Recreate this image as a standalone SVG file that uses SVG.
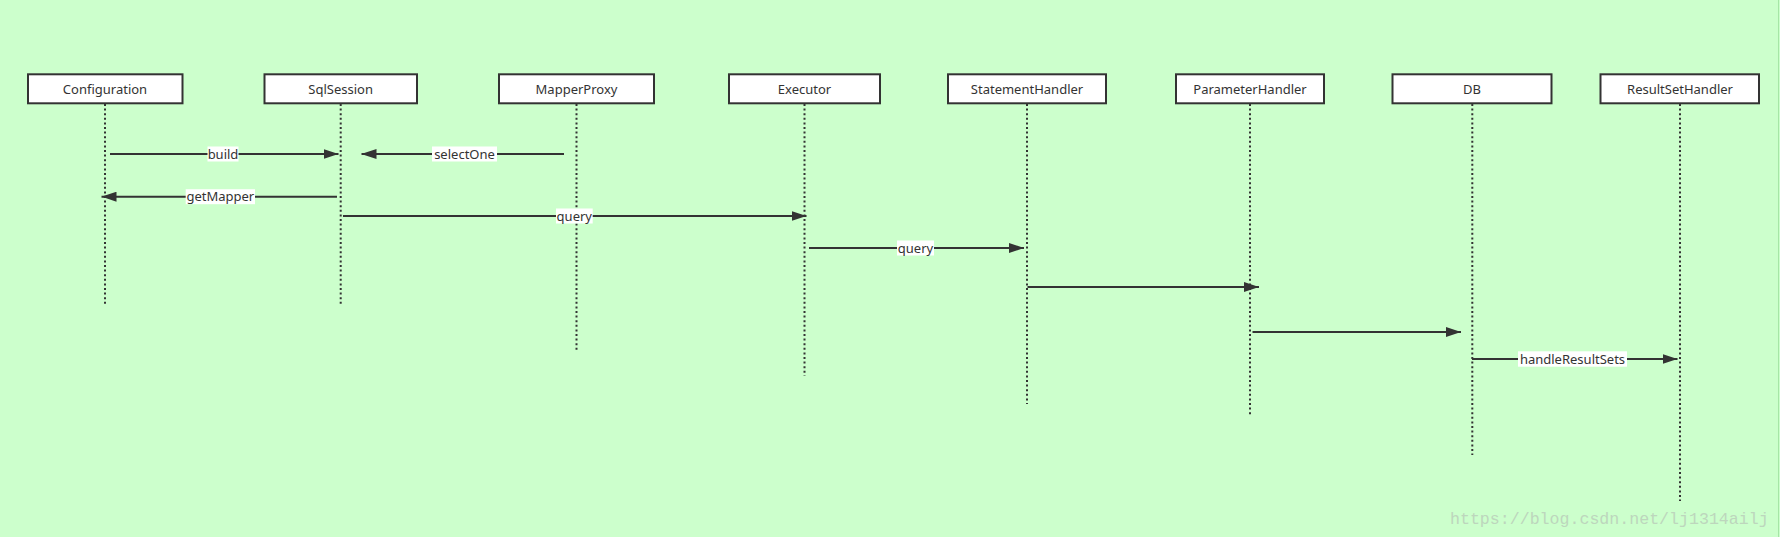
<svg xmlns="http://www.w3.org/2000/svg" width="1780" height="537" viewBox="0 0 1780 537">
<defs>
<style>
.box{fill:#ffffff;stroke:#333333;stroke-width:2}
.name{font-family:"Noto Sans","Open Sans",sans-serif;font-size:13px;fill:#333333;text-anchor:middle}
.life{stroke:#333333;stroke-width:2;stroke-dasharray:2 2.6;fill:none}
.msg{stroke:#333333;stroke-width:2;fill:none;marker-end:url(#arr)}
.lblbg{fill:#ffffff}
.lbl{font-family:"Noto Sans","Open Sans",sans-serif;font-size:13px;fill:#333333;text-anchor:middle}
</style>
<marker id="arr" markerUnits="userSpaceOnUse" markerWidth="15" markerHeight="10" refX="15" refY="5" orient="auto">
<path d="M0,0 L15,5 L0,10 Z" fill="#333333"/>
</marker>
</defs>
<rect x="0" y="0" width="1780" height="537" fill="#ccffcc"/>
<line x1="1778.5" y1="0" x2="1778.5" y2="537" stroke="#a6e6a6" stroke-width="1"/>

<g id="node-configuration">
<rect class="box" x="28" y="74.3" width="154.5" height="29"/>
<text class="name" x="105" y="94">Configuration</text>
<line class="life" x1="105" y1="104" x2="105" y2="305"/>
</g>
<g id="node-sqlsession">
<rect class="box" x="264.5" y="74.3" width="152.5" height="29"/>
<text class="name" x="340.7" y="94">SqlSession</text>
<line class="life" x1="340.7" y1="104" x2="340.7" y2="305"/>
</g>
<g id="node-mapperproxy">
<rect class="box" x="499" y="74.3" width="155" height="29"/>
<text class="name" x="576.5" y="94">MapperProxy</text>
<line class="life" x1="576.5" y1="104" x2="576.5" y2="350"/>
</g>
<g id="node-executor">
<rect class="box" x="729" y="74.3" width="151" height="29"/>
<text class="name" x="804.5" y="94">Executor</text>
<line class="life" x1="804.5" y1="104" x2="804.5" y2="376"/>
</g>
<g id="node-statementhandler">
<rect class="box" x="948" y="74.3" width="158" height="29"/>
<text class="name" x="1027" y="94">StatementHandler</text>
<line class="life" x1="1027" y1="104" x2="1027" y2="404"/>
</g>
<g id="node-parameterhandler">
<rect class="box" x="1176" y="74.3" width="148" height="29"/>
<text class="name" x="1250" y="94">ParameterHandler</text>
<line class="life" x1="1250" y1="104" x2="1250" y2="415"/>
</g>
<g id="node-db">
<rect class="box" x="1392.5" y="74.3" width="159" height="29"/>
<text class="name" x="1472" y="94">DB</text>
<line class="life" x1="1472.3" y1="104" x2="1472.3" y2="455"/>
</g>
<g id="node-resultsethandler">
<rect class="box" x="1600.5" y="74.3" width="158.5" height="29"/>
<text class="name" x="1680" y="94">ResultSetHandler</text>
<line class="life" x1="1680" y1="104" x2="1680" y2="501"/>
</g>

<g id="connectors">
<line class="msg" x1="110" y1="154" x2="338.5" y2="154"/>
<rect class="lblbg" x="207.5" y="146.5" width="31" height="15"/>
<text class="lbl" x="223" y="158.5">build</text>

<line class="msg" x1="564" y1="154" x2="361.5" y2="154"/>
<rect class="lblbg" x="432" y="146.5" width="65" height="15"/>
<text class="lbl" x="464.5" y="158.5">selectOne</text>

<line class="msg" x1="337" y1="196.7" x2="101.5" y2="196.7"/>
<rect class="lblbg" x="185.7" y="189.2" width="69.3" height="15"/>
<text class="lbl" x="220.3" y="201.2">getMapper</text>

<line class="msg" x1="343" y1="216" x2="806.5" y2="216"/>
<rect class="lblbg" x="556" y="208.5" width="36.7" height="15"/>
<text class="lbl" x="574.3" y="220.5">query</text>

<line class="msg" x1="809" y1="248" x2="1024" y2="248"/>
<rect class="lblbg" x="897" y="240.5" width="37" height="15"/>
<text class="lbl" x="915.5" y="252.5">query</text>

<line class="msg" x1="1027.5" y1="287" x2="1259" y2="287"/>

<line class="msg" x1="1252.5" y1="332" x2="1461" y2="332"/>

<line class="msg" x1="1472" y1="359" x2="1677.5" y2="359"/>
<rect class="lblbg" x="1518" y="351.3" width="109" height="15.4"/>
<text class="lbl" x="1572.5" y="363.5">handleResultSets</text>
</g>

<text x="1450" y="523.5" font-family="Liberation Mono, monospace" font-size="16.6" fill="#bdd6bd">https://blog.csdn.net/lj1314ailj</text>
</svg>
